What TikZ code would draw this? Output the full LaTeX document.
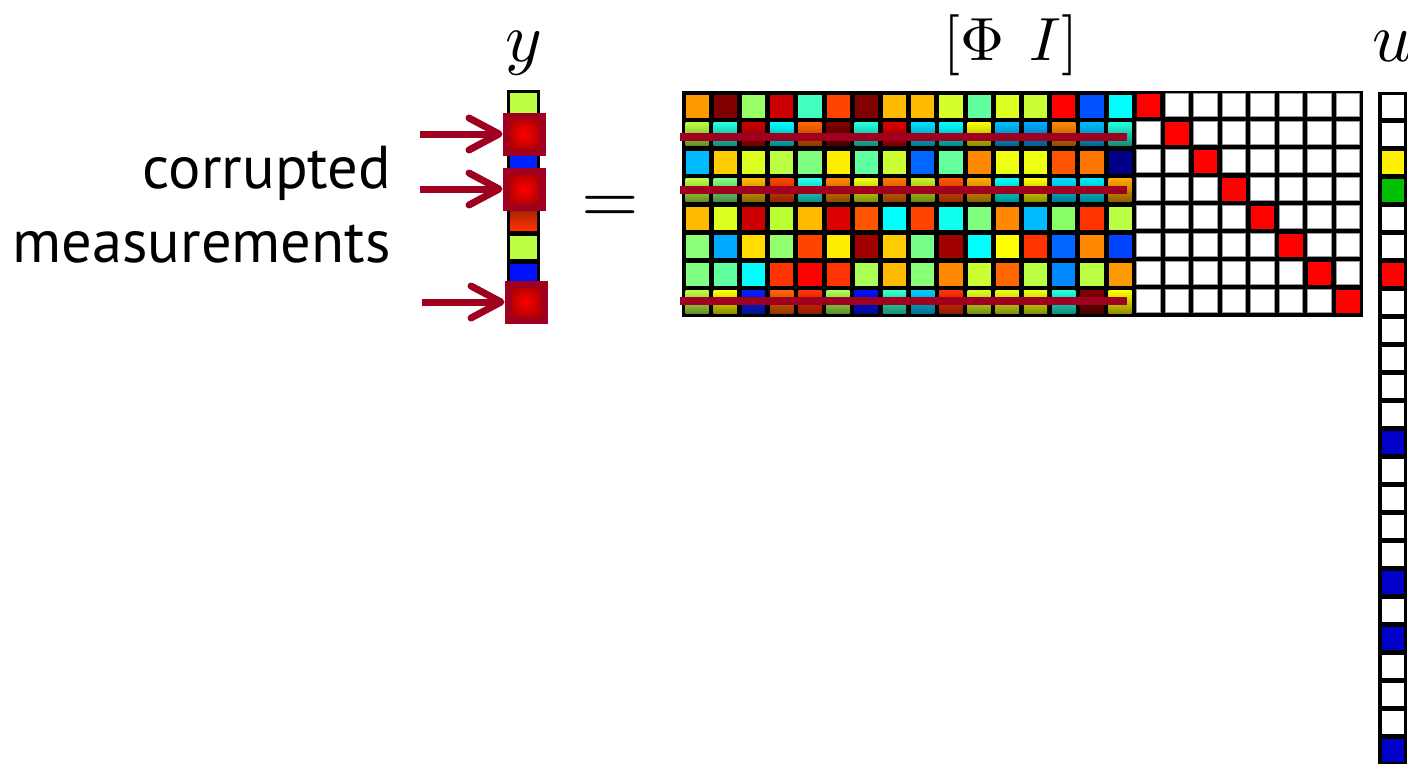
\documentclass[tikz,border=0pt]{standalone}
\usepackage{fontspec}
\newfontfamily\ptsans{PT Sans}
\usetikzlibrary{arrows.meta,shadows}
\definecolor{hred}{RGB}{160,0,32}
\definecolor{ublue}{HTML}{0000C8}
\definecolor{ugreen}{HTML}{00C000}
\newcommand\phirow[3]{%
  \foreach \c [count=\j] in {#3} {
    \definecolor{tmp}{HTML}{\c}
    \ifnum#2=1
      \shade[top color=tmp, bottom color=tmp!55!black] ({683+(\j-1)*28.2+2.5},{92+(#1-1)*28+2.5}) rectangle ++(23.2,23);
    \else
      \fill[tmp] ({683+(\j-1)*28.2+2.5},{92+(#1-1)*28+2.5}) rectangle ++(23.2,23);
    \fi
  }}
\tikzset{
  hbox/.style={draw=hred, line width=7pt, minimum size=36pt, inner sep=0pt,
    inner color=red, outer color=red!68!black,
    drop shadow={opacity=0.35, shadow xshift=2.5pt, shadow yshift=-2.5pt}},
  arr/.style={draw=hred, line width=7pt, -{Straight Barb[length=30pt,width=32pt,round]}},
  lbl/.style={font=\ptsans\fontsize{60.5}{74}\selectfont, inner sep=0pt},
  mlbl/.style={inner sep=0pt, anchor=base, font=\fontsize{10}{12}\selectfont},
  corrline/.style={draw=hred, line width=8pt},
  idcell/.style={fill=white, draw=black!40, line width=0.8pt}
}
\begin{document}
\begin{tikzpicture}[x=1pt,y=-1pt]
\useasboundingbox (0,0) rectangle (1408,763);
\clip (0,0) rectangle (1408,763);
\fill[white] (0,0) rectangle (1408,763);

% ---- Phi matrix ----
\fill[black] (682,91) rectangle (1135,317);
\phirow{1}{0}{FF9900,800000,99FF66,CC0000,40FFC0,FF4400,800000,FFBB00,FFBB00,D4FF2B,60FFA0,DDFF22,CCFF33,FF0000,0050FF,00FFFF}
\phirow{2}{1}{BBFF44,22FFDD,CC0000,00FFFF,FF6600,800000,22FFDD,DD0000,00DDFF,00FFFF,FFFF00,00BBFF,00AAFF,FF8800,00BBFF,22FFDD}
\phirow{3}{0}{00BBFF,FFCC00,DDFF22,BBFF44,80FF80,FFEE00,60FFA0,CCFF33,0066FF,66FFA0,FF8800,EEFF11,EEFF11,FF5500,FF7700,000088}
\phirow{4}{1}{BBFF44,80FF80,FFBB00,FF4400,22FFEE,FF8800,EEFF11,FF7700,CCEE22,FF5500,FFAA00,00FFFF,FFFF00,00DDFF,00EEFF,FFAA00}
\phirow{5}{0}{FFBB00,DDFF22,CC0000,BBFF33,FFBB00,DD0000,FF5500,00FFFF,FF4400,11FFEE,80FF80,FF8800,00BBFF,88FF66,FF3300,BBFF44}
\phirow{6}{0}{88FF77,00AAFF,FFDD00,90FF70,FF4400,FFEE00,A00000,FFCC00,77FF88,A00000,00FFFF,FFFF00,FF3300,0066FF,FF8800,0044FF}
\phirow{7}{0}{80FF80,60FFA0,00FFFF,FF3300,FF0000,FF3300,AAFF55,FFBB00,88FF77,FF8800,CCFF33,FF6600,BBFF44,0088FF,BBFF44,FF9900}
\phirow{8}{1}{BBFF44,FFFF00,0022FF,FF6600,FF3300,AAFF55,0011FF,33FFCC,00CCFF,FF3300,DDFF22,EEFF11,EEFF11,22FFDD,800000,FFFF00}

% ---- Identity ----
\fill[black] (1134,91) rectangle (1363,317);
\foreach \i in {1,...,8} {
  \foreach \j in {1,...,8} {
    \ifnum\i=\j
      \fill[red] ({1134+(\j-1)*28.5+2.5},{91+(\i-1)*28+2.5}) rectangle ++(23.5,23);
    \else
      \filldraw[idcell] ({1134+(\j-1)*28.5+2.5},{91+(\i-1)*28+2.5}) rectangle ++(23.5,23);
    \fi
  }}

% ---- corruption lines ----
\draw[corrline] (680,137) -- (1127,137);
\draw[corrline] (680,190) -- (1127,190);
\draw[corrline] (680,301) -- (1127,301);

% ---- u vector ----
\fill[black] (1378,92) rectangle (1407,800);
\foreach \c [count=\k] in {white,white,yellow,ugreen,white,white,red,white,white,white,white,white,ublue,white,white,white,white,ublue,white,ublue,white,white,white,ublue} {
  \fill[\c] (1382,{92+(\k-1)*28+3}) rectangle ++(21.5,22.5);
}

% ---- y vector ----
\fill[black] (507,90) rectangle (540,318);
\foreach \c [count=\k] in {BBFF44,FF0000,0022FF,FF0000,FF3300,BBFF44,0011FF,FF0000} {
  \definecolor{tmp}{HTML}{\c}
  \ifnum\k=5
    \shade[top color=tmp!60!black, bottom color=tmp] (510,{90+(\k-1)*28.5+3}) rectangle ++(27,23);
  \else
    \fill[tmp] (510,{90+(\k-1)*28.5+3}) rectangle ++(27,23);
  \fi
}

% ---- highlight boxes and arrows ----
\node[hbox] (h1) at (524,134) {};
\node[hbox] (h2) at (524,189) {};
\node[hbox] (h3) at (526,302) {};
\coordinate (s1) at (420,134);
\coordinate (s2) at (420,189);
\coordinate (s3) at (422,302);
\draw[arr] (s1) -- (h1.west);
\draw[arr] (s2) -- (h2.west);
\draw[arr] (s3) -- (h3.west);

% ---- labels ----
\node[lbl, anchor=base east] (l1) at (391,188) {corrupted};
\node[lbl, anchor=base east] (l2) at (391,262) {measurements};
\node[mlbl, scale=7] (ylab) at (524,61) {$y$};
\node[mlbl, scale=6.1] (philab) at (1011,60) {$[\Phi\hspace{4.1pt}I]$};
\node[mlbl, scale=7] (ulab) at (1393,61) {$u$};
\node[mlbl, scale=7.4] (eq) at (610,223) {$=$};
\end{tikzpicture}
\end{document}
